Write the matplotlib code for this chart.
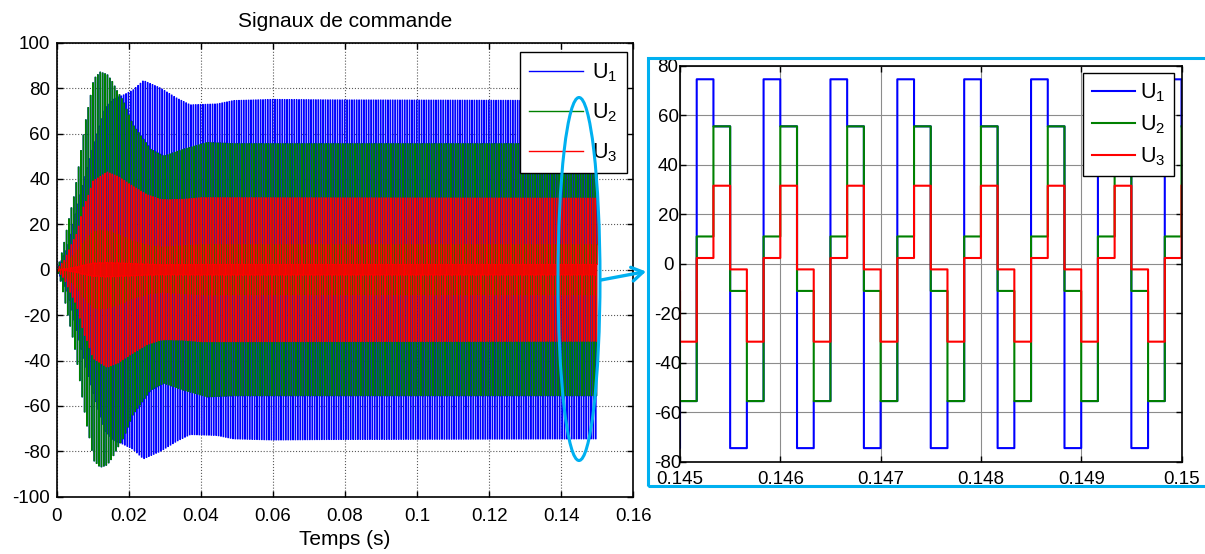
import numpy as np
import matplotlib
matplotlib.use("Agg")
import matplotlib.pyplot as plt
from matplotlib.patches import Ellipse, Rectangle, FancyArrowPatch
from matplotlib.ticker import FuncFormatter, MultipleLocator

plt.rcParams['font.family'] = ['Liberation Sans', 'DejaVu Sans']
plt.rcParams['mathtext.fontset'] = 'custom'
plt.rcParams['mathtext.rm'] = 'Liberation Sans'
plt.rcParams['mathtext.it'] = 'Liberation Sans:italic'

# command is held for 1/6000 s -> 4 levels per period (1500 Hz)
t_step = 1 / 6000
t_end = 0.15

# steady-state levels of the 4 steps of one period
u1_levels = [55.5, -74.5, -55.5, 74.5]
u2_levels = [55.5, -11.0, -55.5, 11.0]
u3_levels = [31.5, -2.3, -31.5, 2.3]

# start-up envelope (peak value)
env_t_u1 = [0, 0.003, 0.006, 0.009, 0.011, 0.0134, 0.0157, 0.0185, 0.021, 0.024,
            0.0287, 0.0333, 0.037, 0.0444, 0.049, 0.06, 0.075, 0.15]
env_u1 = [0, 10, 30, 48, 59, 71, 75, 77, 79, 83.3, 80, 75.5, 72.6, 73, 74.5, 75, 74.8, 74.5]
env_t_u2 = [0, 0.001, 0.002, 0.003, 0.0048, 0.0057, 0.0069, 0.0081, 0.009, 0.0102, 0.012,
            0.0139, 0.0153, 0.0166, 0.0185, 0.021, 0.026, 0.0296, 0.035, 0.0416, 0.049, 0.15]
env_u2 = [0, 5, 12, 20, 33, 42, 55, 67, 74, 84, 87, 86, 83, 79, 74, 64, 53, 50, 53, 56, 55.5, 55.5]
env_t_u3 = [0, 0.002, 0.0037, 0.0055, 0.0074, 0.0083, 0.010, 0.0139, 0.017, 0.0212, 0.025,
            0.0287, 0.0305, 0.035, 0.04, 0.15]
env_u3 = [0, 4, 10, 16, 28, 31, 39, 43, 41, 36.6, 33, 31, 30.8, 31, 31.7, 31.5]

labels = ['U$_1$', 'U$_2$', 'U$_3$']
colors = ['#0000ff', '#008000', '#ff0000']
cyan = '#00b0f0'

# build the sampled commands
k = np.arange(int(round(t_end / t_step)) + 1)
t = k * t_step
ph = k % 4
b = np.interp(t, env_t_u1, env_u1) / max(u1_levels)
g = np.interp(t, env_t_u2, env_u2) / max(u2_levels)
r = np.interp(t, env_t_u3, env_u3) / max(u3_levels)
u1 = np.array(u1_levels)[ph] * np.where(ph % 2 == 1, b, g)
u2 = np.array(u2_levels)[ph] * g
u3 = np.array(u3_levels)[ph] * r

W, H = 1205, 554
fig = plt.figure(figsize=(W / 100, H / 100), dpi=100)


def box(x0, y0, x1, y1):
    # pixel box (top-left origin) -> figure fraction
    return [x0 / W, 1 - y1 / H, (x1 - x0) / W, (y1 - y0) / H]


def fp(x, y):
    return (x / W, 1 - y / H)


ax1 = fig.add_axes(box(56.7, 42.7, 633.3, 496.7))
ax2 = fig.add_axes(box(680, 65.7, 1181.5, 461.7))

for ax, lw in ((ax1, 0.8), (ax2, 1.5)):
    for u, c, lab in zip((u1, u2, u3), colors, labels):
        ax.plot(t, u, color=c, lw=lw, drawstyle='steps-post', label=lab)
    ax.tick_params(direction='in', top=True, right=True, length=4, width=1,
                   labelsize=13.5)
    for s in ax.spines.values():
        s.set_linewidth(1.2)
    ax.xaxis.set_major_formatter(FuncFormatter(lambda v, p: '%g' % v))
    ax.yaxis.set_major_formatter(FuncFormatter(lambda v, p: '%g' % v))

# left: whole simulation
ax1.set_xlim(0, 0.16)
ax1.set_ylim(-100, 100)
ax1.xaxis.set_major_locator(MultipleLocator(0.02))
ax1.yaxis.set_major_locator(MultipleLocator(20))
ax1.tick_params(axis='x', pad=8)
ax1.tick_params(axis='y', pad=4.8)
ax1.grid(True, ls=':', color='0.35', lw=0.8)
ax1.set_title('Signaux de commande', fontsize=15, pad=11.5)
ax1.set_xlabel('Temps (s)', fontsize=15, labelpad=4)
leg1 = ax1.legend(loc='upper right', bbox_to_anchor=(0.989, 0.980), borderaxespad=0,
                  fontsize=15.5, handlelength=2.5, handletextpad=0.4, labelspacing=0.8,
                  borderpad=0.45, fancybox=False, edgecolor='black', framealpha=1)
leg1.get_frame().set_linewidth(1.0)
for ln in leg1.get_lines():
    ln.set_linewidth(1.0)

# right: zoom on the steady state
ax2.set_xlim(0.145, 0.15)
ax2.set_ylim(-80, 80)
ax2.xaxis.set_major_locator(MultipleLocator(0.001))
ax2.yaxis.set_major_locator(MultipleLocator(20))
ax2.tick_params(axis='x', pad=7)
ax2.tick_params(axis='y', pad=8.6)
plt.setp(ax2.get_yticklabels(), ha='center')
ax2.grid(True, ls='-', color='0.55', lw=0.8)
leg2 = ax2.legend(loc='upper right', bbox_to_anchor=(0.985, 0.981), borderaxespad=0,
                  fontsize=15.5, handlelength=2.0, handletextpad=0.25, labelspacing=0.42,
                  borderpad=0.4, fancybox=False, edgecolor='black', framealpha=1)
leg2.get_frame().set_linewidth(1.0)

# zoom marks
fig.add_artist(Ellipse(fp(579, 279), 42 / W, 363 / H, transform=fig.transFigure,
                       fill=False, ec=cyan, lw=2.2))
fig.add_artist(Rectangle(fp(647.5, 486), (1215 - 647.5) / W, (486 - 57.5) / H,
                         transform=fig.transFigure, fill=False, ec=cyan, lw=2.2))
fig.add_artist(FancyArrowPatch(fp(601, 280), fp(646, 271.5), transform=fig.transFigure,
                               arrowstyle='->,head_length=8,head_width=5', lw=2.4,
                               color=cyan, shrinkA=0, shrinkB=0))

fig.savefig('out.png', dpi=100)
